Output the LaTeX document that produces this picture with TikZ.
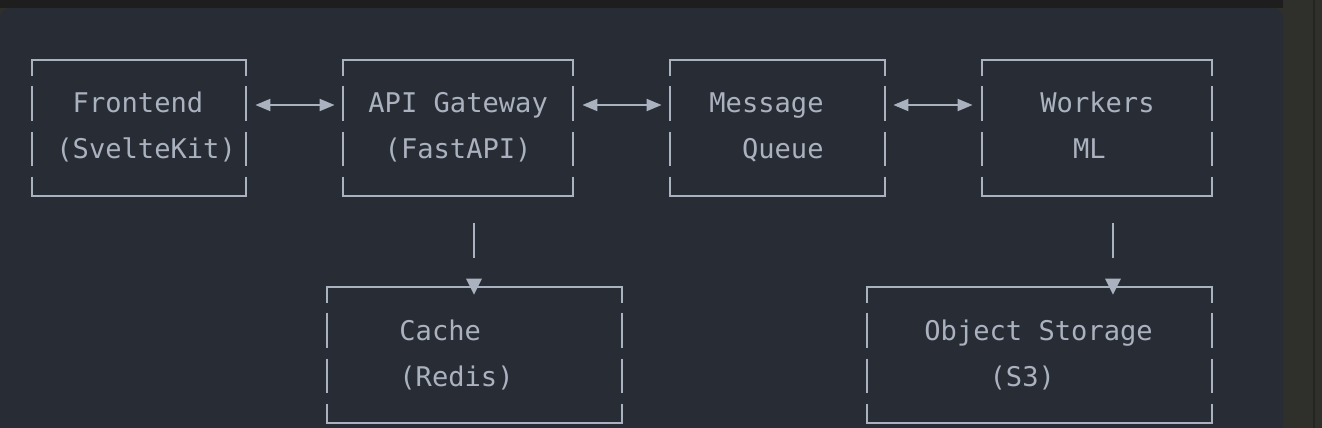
\documentclass[tikz,border=0pt]{standalone}
\usepackage{fontspec}
\setmonofont{DejaVu Sans Mono}
\usetikzlibrary{arrows.meta,calc}
\definecolor{panel}{RGB}{40,44,52}
\definecolor{topbar}{RGB}{30,30,30}
\definecolor{sidebar}{RGB}{47,47,43}
\definecolor{ink}{RGB}{171,178,191}

\tikzset{
    box/.style={draw=none, inner sep=0pt, minimum height=68pt},
    boxtext/.style={anchor=base west, inner sep=0pt, align=left, text=ink,
        font=\ttfamily\fontsize{13.55pt}{23pt}\selectfont},
    rule/.style={draw=ink, line width=1pt},
    sides/.style={rule, dash pattern=on 8pt off 5pt on 17.5pt off 5.5pt on 17pt off 5.5pt on 9.5pt},
    both/.style={rule, {Triangle[length=7.5pt,width=6pt]}-{Triangle[length=7.5pt,width=6pt]}},
}

\begin{document}
\begin{tikzpicture}[x=0.5pt, y=-0.5pt]
    %% Background
    \useasboundingbox (0,0) rectangle (1322,428);
    \fill[sidebar] (0,0) rectangle (1322,428);
    \fill[topbar] (0,0) rectangle (1283,8);
    \fill[panel, rounded corners=5pt] (0,8) rectangle (1283,460);
    \fill[sidebar!80!black] (1313,0) rectangle (1315,428);
    %% Boxes
    \node[box, minimum width=107pt] (front) at (139,128) {};
    \node[box, minimum width=115pt] (gate) at (458,128) {};
    \node[box, minimum width=107.5pt] (queue) at (777.5,128) {};
    \node[box, minimum width=115pt] (workers) at (1097,128) {};
    \node[box, minimum width=147.5pt] (cache) at (474.5,355) {};
    \node[box, minimum width=172.5pt] (store) at (1039.5,355) {};
    \draw[rule, line cap=rect] (front.north west) -- (front.north east) (front.south west) -- (front.south east);
    \draw[sides] (front.north west) -- (front.south west) (front.north east) -- (front.south east);
    \draw[rule, line cap=rect] (gate.north west) -- (gate.north east) (gate.south west) -- (gate.south east);
    \draw[sides] (gate.north west) -- (gate.south west) (gate.north east) -- (gate.south east);
    \draw[rule, line cap=rect] (queue.north west) -- (queue.north east) (queue.south west) -- (queue.south east);
    \draw[sides] (queue.north west) -- (queue.south west) (queue.north east) -- (queue.south east);
    \draw[rule, line cap=rect] (workers.north west) -- (workers.north east) (workers.south west) -- (workers.south east);
    \draw[sides] (workers.north west) -- (workers.south west) (workers.north east) -- (workers.south east);
    \draw[rule, line cap=rect] (cache.north west) -- (cache.north east) (cache.south west) -- (cache.south east);
    \draw[sides] (cache.north west) -- (cache.south west) (cache.north east) -- (cache.south east);
    \draw[rule, line cap=rect] (store.north west) -- (store.north east) (store.south west) -- (store.south east);
    \draw[sides] (store.north west) -- (store.south west) (store.north east) -- (store.south east);
    %% Texts (base = last line)
    \node[boxtext] (front text) at (56,158.5) {\hphantom{(}Frontend\\(SvelteKit)};
    \node[boxtext] (gate text) at (368,158.5) {API Gateway\\\hphantom{A}(FastAPI)};
    \node[boxtext] (queue text) at (709,158.5) {Message\\\hphantom{Me}Queue};
    \node[boxtext] (workers text) at (1040,158.5) {Workers\\\hphantom{Wo}ML};
    \node[boxtext] (cache text) at (399,386.5) {Cache\\(Redis)};
    \node[boxtext] (store text) at (924,386.5) {Object Storage\\\hphantom{Obje}(S3)};
    %% Links
    \draw[both] ($(front.east)+(9,-23)$) to ($(gate.west)+(-8,-23)$);
    \draw[both] ($(gate.east)+(9,-23)$) to ($(queue.west)+(-8,-23)$);
    \draw[both] ($(queue.east)+(8,-23)$) to ($(workers.west)+(-9,-23)$);
    \coordinate (gate drop) at ($(gate.south)+(16,0)$);
    \coordinate (workers drop) at ($(workers.south)+(16,0)$);
    \draw[rule] ($(gate drop)+(0,27)$) to ($(gate drop)+(0,62)$);
    \fill[ink] ($(gate drop |- cache.north)+(0,8)$) -- ++(-8,-16) -- ++(16,0) -- cycle;
    \draw[rule] ($(workers drop)+(0,27)$) to ($(workers drop)+(0,62)$);
    \fill[ink] ($(workers drop |- store.north)+(0,8)$) -- ++(-8,-16) -- ++(16,0) -- cycle;
\end{tikzpicture}
\end{document}
